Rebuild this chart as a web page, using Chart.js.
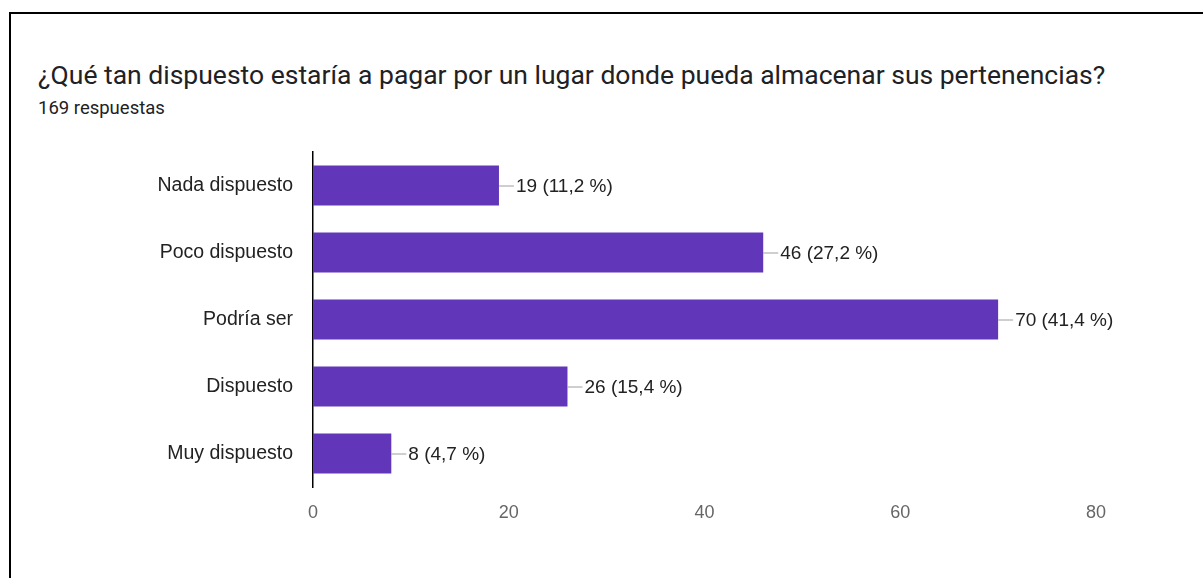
<!DOCTYPE html>
<html>
<head>
<meta charset="utf-8">
<script src="https://cdn.jsdelivr.net/npm/chart.js@4"></script>
<style>
    body { margin: 0; background: #fff; }
    #wrap { position: relative; width: 1203px; height: 578px; overflow: hidden; }
    #frame {
        position: absolute; left: 9px; top: 12px; right: -10px; bottom: -10px;
        border-top: 2px solid #000; border-left: 2px solid #000;
    }
    #title {
        position: absolute; left: 38px; top: 59px; line-height: 32px;
        font-family: Roboto, sans-serif; font-size: 26.5px; color: #202124;
    }
    #subtitle {
        position: absolute; left: 38px; top: 96px; line-height: 24px;
        font-family: Roboto, sans-serif; font-size: 18.5px; color: #202124;
    }
    canvas { position: absolute; left: 0; top: 0; }
</style>
</head>
<body>
<div id="wrap">
    <div id="frame"></div>
    <div id="title">¿Qué tan dispuesto estaría a pagar por un lugar donde pueda almacenar sus pertenencias?</div>
    <div id="subtitle">169 respuestas</div>
    <canvas id="chart" width="1203" height="578"></canvas>
</div>
<script>
const categories = ['Nada dispuesto', 'Poco dispuesto', 'Podría ser', 'Dispuesto', 'Muy dispuesto'];
const responses = [19, 46, 70, 26, 8];
const xTicks = [0, 20, 40, 60, 80];
const totalResponses = 169;

// Leader line plus "n (p %)" next to each bar
const barLabels = {
    id: 'barLabels',
    afterDatasetsDraw(chart) {
        const ctx = chart.ctx;
        const meta = chart.getDatasetMeta(0);
        ctx.save();
        ctx.font = '19px "Liberation Sans", Arial, sans-serif';
        ctx.textBaseline = 'middle';
        meta.data.forEach((bar, i) => {
            const v = responses[i];
            const pct = (v / totalResponses * 100).toFixed(1).replace('.', ',');
            ctx.strokeStyle = '#9e9e9e';
            ctx.lineWidth = 1;
            ctx.beginPath();
            ctx.moveTo(bar.x, bar.y + 0.5);
            ctx.lineTo(bar.x + 15, bar.y + 0.5);
            ctx.stroke();
            ctx.fillStyle = '#222';
            ctx.fillText(v + ' (' + pct + ' %)', bar.x + 17, bar.y + 1);
        });
        ctx.restore();
    }
};

const ctx = document.getElementById('chart').getContext('2d');
const chart = new Chart(ctx, {
    type: 'bar',
    data: {
        labels: categories,
        datasets: [{
            data: responses,
            backgroundColor: '#6236b8',
            categoryPercentage: 1,
            barPercentage: 0.6
        }]
    },
    options: {
        indexAxis: 'y',
        responsive: false,
        animation: false,
        layout: { padding: { left: 0, right: 107, top: 152, bottom: 51 } },
        plugins: {
            legend: { display: false },
            tooltip: { enabled: false }
        },
        scales: {
            x: {
                min: 0,
                max: 80,
                afterFit(scale) { scale.height = 40; },
                afterBuildTicks(scale) { scale.ticks = xTicks.map(v => ({ value: v })); },
                grid: { display: false, drawTicks: false },
                border: { display: false },
                ticks: {
                    padding: 15,
                    color: '#666',
                    font: { family: '"Liberation Sans", Arial, sans-serif', size: 18 }
                }
            },
            y: {
                afterFit(scale) { scale.width = 313; },
                grid: { display: false, drawTicks: false },
                border: { display: true, color: '#000', width: 1.5 },
                ticks: {
                    padding: 20,
                    color: '#222',
                    font: { family: '"Liberation Sans", Arial, sans-serif', size: 19.5 }
                }
            }
        }
    },
    plugins: [barLabels]
});
</script>
</body>
</html>
